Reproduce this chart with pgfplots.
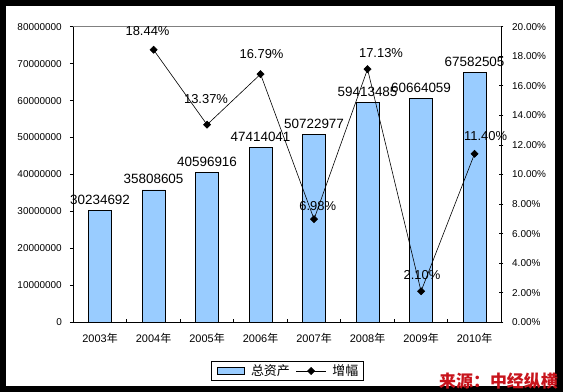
\documentclass[border=0pt]{standalone}
\usepackage{pgfplots}
\usepackage{pgfplotstable}
\pgfplotsset{compat=1.18}
\usepackage{fontspec}
\setmainfont{Liberation Sans}
\newfontfamily\cjk{Noto Sans CJK SC}
\definecolor{barblue}{HTML}{99CCFF}
\definecolor{srcred}{RGB}{200,20,28}

\pgfplotsset{
  my line legend/.style={legend image code/.code={\draw[mark repeat=2,mark phase=2,##1] plot coordinates {(0bp,0bp) (15bp,0bp) (30bp,0bp)};}},
  my bar legend/.style={legend image code/.code={\draw[fill=barblue, draw=black, line width=0.8bp] (0bp,-3.5bp) rectangle (27.6bp,3.5bp);}},
}

\pgfplotstableread{
x y label
0 30234692 30234692
1 35808605 35808605
2 40596916 40596916
3 47414041 47414041
4 50722977 50722977
5 59413485 59413485
6 60664059 60664059
7 67582505 67582505
}\assets

\pgfplotstableread{
x y label dx dy
1 18.44 18.44 -6 18.7
2 13.37 13.37 -1 26
3 16.79 16.79 1 20
4 6.98 6.98 3.7 13
5 17.13 17.13 13.5 16
6 2.10 2.10 1 16.7
7 11.40 11.40 11 17.3
}\growth

\begin{document}
\begin{tikzpicture}
\useasboundingbox (0,0) rectangle (563bp,392bp);
\fill[black] (0,0) rectangle (563bp,392bp);
\fill[white] (6bp,6bp) rectangle (555bp,386bp);

\begin{axis}[
  at={(73.3bp,69.7bp)}, anchor=south west,
  width=428bp, height=295.6bp, scale only axis,
  clip=false,
  xmin=-0.5, xmax=7.5, ymin=0, ymax=80000000,
  axis x line*=bottom, axis y line*=left,
  axis line style={line width=1bp, black},
  tick align=inside, major tick length=3.5bp,
  ytick={0,10000000,20000000,30000000,40000000,50000000,60000000,70000000,80000000},
  scaled y ticks=false,
  ytick style={black, line width=0.8bp, xshift=-3.5bp},
  xtick style={black, line width=0.8bp},
  yticklabel style={/pgf/number format/fixed, /pgf/number format/1000 sep={},
    /pgf/number format/assume math mode=true,
    font=\fontsize{10}{12}\selectfont, inner sep=0bp, anchor=east, xshift=-11.3bp},
  xtick={-0.5,0.5,...,7.5},
  x tick label as interval,
  xticklabels={2003{\cjk 年},2004{\cjk 年},2005{\cjk 年},2006{\cjk 年},2007{\cjk 年},2008{\cjk 年},2009{\cjk 年},2010{\cjk 年}},
  xticklabel style={font=\fontsize{11}{13}\selectfont, inner sep=0bp, anchor=north, yshift=-10.8bp},
]
\addplot[ybar, bar width=23bp, fill=barblue, draw=black, line width=0.8bp,
  point meta=explicit symbolic,
  nodes near coords={\pgfplotspointmeta},
  every node near coord/.append style={anchor=south, inner sep=0bp, yshift=5.5bp,
    font=\fontsize{13.5}{15}\selectfont, text=black}]
  table[x=x, y=y, meta=label] {\assets};
\end{axis}

\begin{axis}[
  at={(73.3bp,69.7bp)}, anchor=south west,
  width=428bp, height=295.6bp, scale only axis,
  clip=false,
  xmin=-0.5, xmax=7.5, ymin=0, ymax=20,
  axis x line*=top, axis y line*=right,
  x axis line style={draw=gray, line width=1bp},
  y axis line style={draw=black, line width=1bp},
  xtick=\empty,
  ytick={0,2,...,20},
  tick align=center, major tick length=4bp,
  ytick style={black, line width=0.8bp},
  yticklabel={\pgfmathprintnumber[fixed,fixed zerofill,precision=2,assume math mode=true]{\tick}\%},
  yticklabel style={font=\fontsize{10}{12}\selectfont, inner sep=0bp, anchor=west, xshift=8.7bp},
  legend columns=2,
  legend style={at={(axis description cs:0.5005,-0.1647)}, anchor=center,
    draw=black, line width=1bp, inner xsep=5.5bp, inner ysep=3.5bp,
    /tikz/column sep=6bp,
    nodes={inner sep=0bp, anchor=west, text=black},
    font=\cjk\fontsize{13}{15}\selectfont},
]
\addlegendimage{my bar legend}
\addlegendentry{总资产}
\addplot[black, line width=0.6bp, mark=square*, mark size=2.5bp,
  mark options={rotate=45, solid, fill=black},
  my line legend,
  point meta=explicit symbolic,
  visualization depends on={\thisrow{dx}\as\labdx},
  visualization depends on={\thisrow{dy}\as\labdy},
  nodes near coords={\pgfplotspointmeta\%},
  every node near coord/.append style={anchor=center, inner sep=0bp,
    xshift={\labdx*1bp}, yshift={\labdy*1bp},
    font=\fontsize{13}{15}\selectfont, text=black}]
  table[x=x, y=y, meta=label] {\growth};
\addlegendentry{增幅}
\end{axis}

\node[anchor=base west, inner sep=0bp, text=srcred, font=\cjk\bfseries\fontsize{17}{17}\selectfont] at (439bp,4.7bp) {来源：中经纵横};
\end{tikzpicture}
\end{document}
